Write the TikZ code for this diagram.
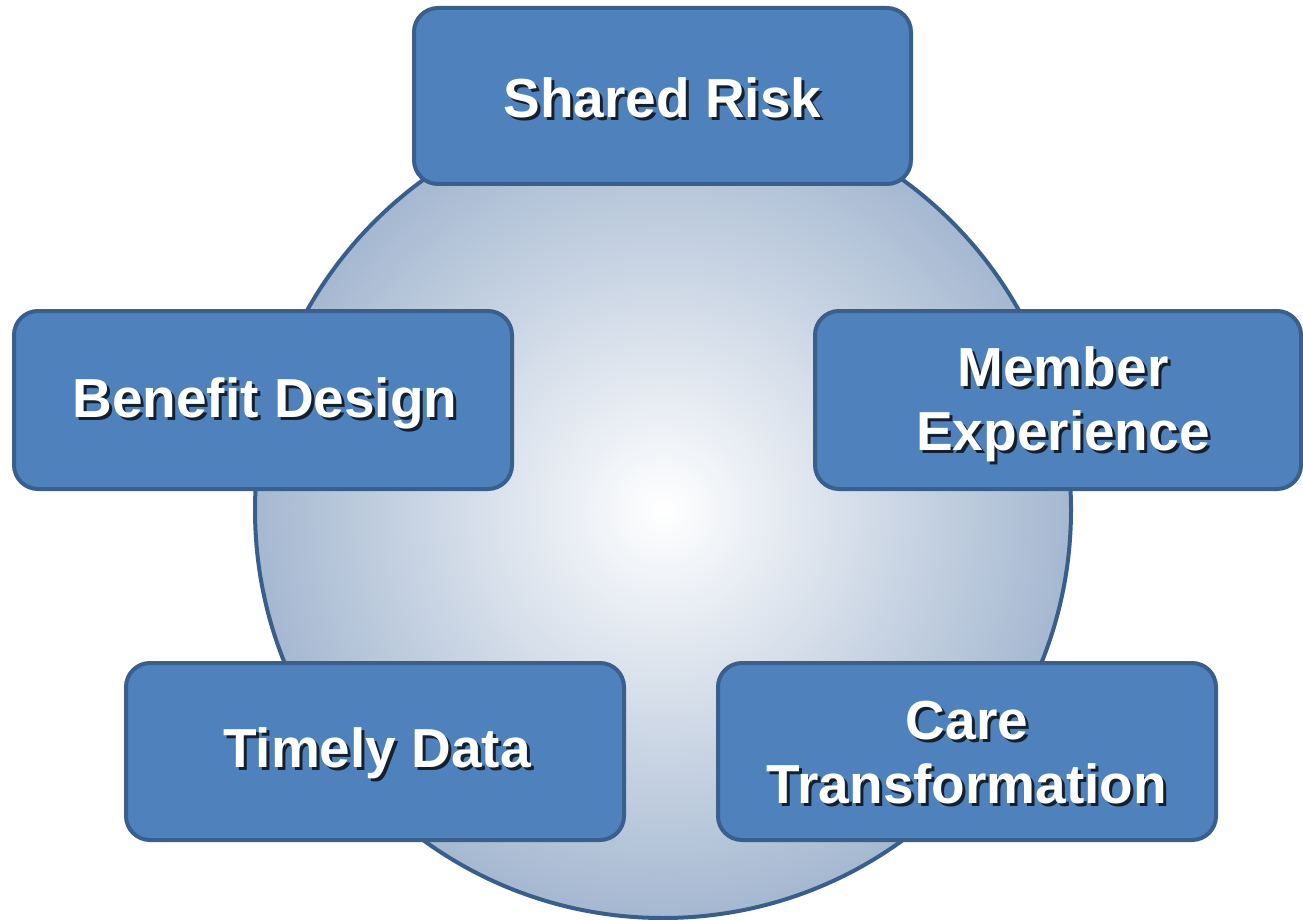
\documentclass[tikz,border=0pt]{standalone}
\usepackage{fontspec}
\setmainfont{Liberation Sans}
\usetikzlibrary{calc}
\definecolor{boxfill}{RGB}{79,129,189}
\definecolor{boxline}{RGB}{58,95,140}
\definecolor{ringline}{RGB}{58,94,139}
\definecolor{ballout}{RGB}{165,184,209}
\tikzset{
  box/.style={draw=boxline, line width=4pt, fill=boxfill, rounded corners=24pt, inner sep=0pt},
  lbl/.style={text=white, font=\bfseries\fontsize{55}{64}\selectfont, align=center, inner sep=0pt},
  lblshadow/.style={text=black, opacity=0.75, font=\bfseries\fontsize{55}{64}\selectfont, align=center, inner sep=0pt}
}
\begin{document}
\begin{tikzpicture}[x=1pt,y=-1pt]
\useasboundingbox (0,0) rectangle (1303,920);
\clip (0,0) rectangle (1303,920);
% central sphere
\shade[inner color=white, outer color=ballout] (663,510) circle (408);
\node[circle, draw=ringline, line width=4pt, minimum size=816pt, inner sep=0pt] (ball) at (663,510) {};
% boxes
\node[box, minimum width=497pt, minimum height=176pt] (sr) at (662.5,96) {};
\node[box, minimum width=498pt, minimum height=178pt] (bd) at (263,400) {};
\node[box, minimum width=486pt, minimum height=178pt] (me) at (1058,400) {};
\node[box, minimum width=498pt, minimum height=177pt] (td) at (375,751.5) {};
\node[box, minimum width=498pt, minimum height=177pt] (ct) at (967,751.5) {};
% labels with shadow
\foreach \n/\dx/\dy/\t in {sr/0/2/{Shared Risk}, bd/2/3/{Benefit Design}, me/5/4/{Member\\Experience}, td/2/2/{Timely Data}, ct/0/1/{Care\\Transformation}}{
  \node[lblshadow] at ($(\n)+(\dx+3,\dy+3)$) {\t};
  \node[lbl] at ($(\n)+(\dx,\dy)$) {\t};
}
\end{tikzpicture}
\end{document}
